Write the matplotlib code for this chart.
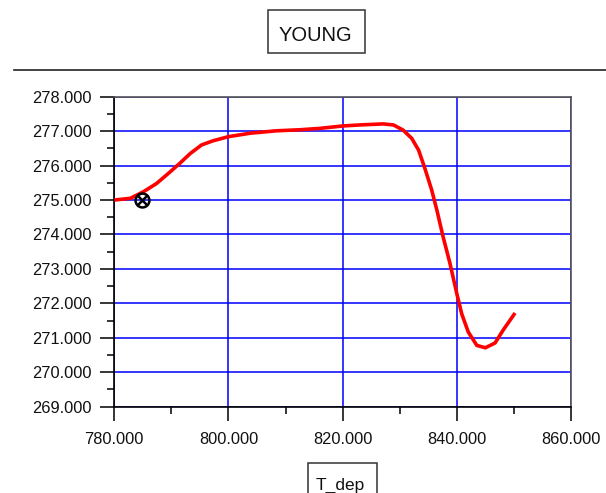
import matplotlib
matplotlib.use("Agg")
import matplotlib.pyplot as plt
from matplotlib.patches import Rectangle
from matplotlib.lines import Line2D
from matplotlib.ticker import MultipleLocator, FormatStrFormatter

plt.rcParams['font.family'] = ['Liberation Sans', 'DejaVu Sans']

# curve
t_dep = [780.0, 782.8, 785.1, 787.4, 789.8, 791.5, 793.3, 795.3, 797.3, 800.0,
         803.8, 808.4, 812.5, 816.0, 820.0, 823.0, 827.1, 828.9, 830.6, 832.1,
         833.3, 834.4, 835.6, 836.5, 837.6, 838.8, 840.0, 840.85, 842.0, 843.5,
         845.0, 846.7, 848.1, 850.2]
young = [275.0, 275.05, 275.24, 275.48, 275.82, 276.07, 276.35, 276.6, 276.72, 276.84,
         276.94, 277.01, 277.04, 277.08, 277.15, 277.18, 277.21, 277.18, 277.03, 276.79,
         276.45, 275.92, 275.29, 274.71, 273.93, 273.16, 272.28, 271.70, 271.17, 270.78,
         270.71, 270.85, 271.22, 271.72]

# current point marker (circle with cross)
marker_x = [784.9]
marker_y = [275.0]

title_text = "YOUNG"
xlabel_text = "T_dep"

W, H = 606, 493
fig = plt.figure(figsize=(W / 100, H / 100), dpi=100)

# axes box in pixels: left 114.3, right 571, top 96.7, bottom 406.7
ax = fig.add_axes([114.3 / W, (H - 406.7) / H, 456.7 / W, 310 / H])

ax.plot(t_dep, young, color='#ff0000', lw=2.6, solid_capstyle='butt', zorder=3)
ax.plot(marker_x, marker_y, 'o', ms=10, mfc='none', mec='black', mew=1.8, zorder=4)
ax.plot(marker_x, marker_y, 'x', ms=7.5, mec='black', mew=1.8, zorder=4)

ax.set_xlim(780, 860)
ax.set_ylim(269, 278)
ax.xaxis.set_major_locator(MultipleLocator(20))
ax.xaxis.set_minor_locator(MultipleLocator(10))
ax.yaxis.set_major_locator(MultipleLocator(1))
ax.yaxis.set_minor_locator(MultipleLocator(0.5))
ax.xaxis.set_major_formatter(FormatStrFormatter('%.3f'))
ax.yaxis.set_major_formatter(FormatStrFormatter('%.3f'))

ax.grid(True, which='major', color='#0000ff', lw=1.1)
ax.set_axisbelow(True)

ax.tick_params(which='major', direction='out', length=10, width=1.1, color='black',
               labelsize=11.8, labelcolor='#111111')
ax.tick_params(axis='y', which='major', pad=6.5)
ax.tick_params(axis='x', which='major', pad=8)
ax.tick_params(which='minor', direction='out', length=5, width=1.1, color='black')

for side in ['left', 'bottom']:
    ax.spines[side].set_color('black')
    ax.spines[side].set_linewidth(1.2)
for side in ['top', 'right']:
    ax.spines[side].set_color('#555555')
    ax.spines[side].set_linewidth(1.2)

# title box
fig.patches.append(Rectangle((267.7 / W, (H - 53.3) / H), 97.3 / W, 43.3 / H,
                             transform=fig.transFigure, fill=False,
                             edgecolor='#333333', lw=1.1))
fig.text(315.5 / W, (H - 40.7) / H, title_text, ha='center', va='baseline',
         fontsize=14.5, color='#111111')

# separator line under title
fig.lines.append(Line2D([14 / W, 1.0], [(H - 70) / H, (H - 70) / H],
                        transform=fig.transFigure, color='#222222', lw=1.2))

# x label box (cut by bottom edge)
fig.patches.append(Rectangle((307.7 / W, -10 / H), 69 / W, (H - 462.7 + 10) / H,
                             transform=fig.transFigure, fill=False,
                             edgecolor='#333333', lw=1.1))
fig.text(340 / W, (H - 490) / H, xlabel_text, ha='center', va='baseline',
         fontsize=12.5, color='#111111')

fig.savefig("out.png", dpi=100)
